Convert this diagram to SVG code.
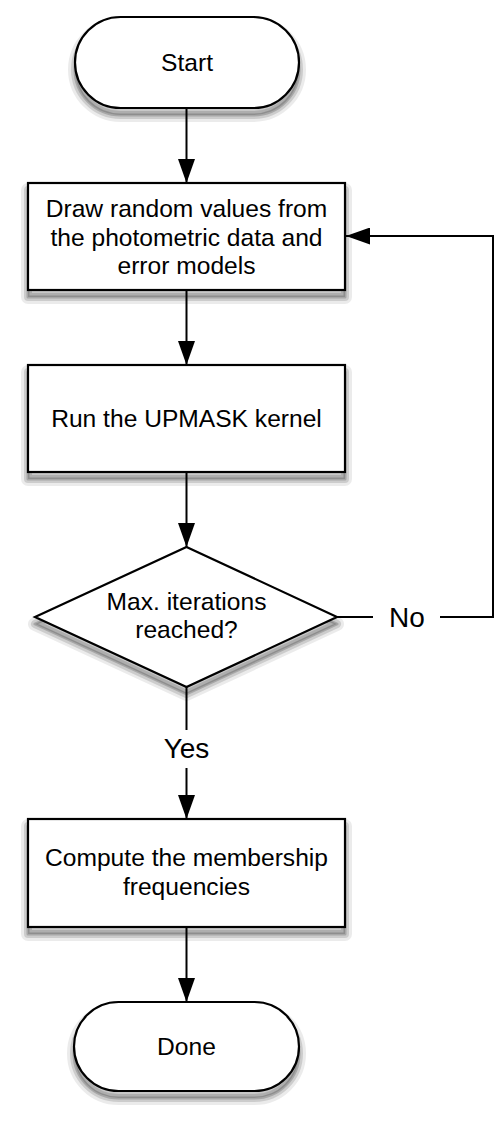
<svg xmlns="http://www.w3.org/2000/svg" xmlns:xlink="http://www.w3.org/1999/xlink" width="498" height="1126" viewBox="0 0 498 1126">
<style>
.shape{fill:#fff;stroke:#000;stroke-width:2.2}
.s1{fill:#000;fill-opacity:0.15;stroke:#000;stroke-opacity:0.08;stroke-width:14;stroke-linejoin:round}
.s2{fill:none;stroke:#000;stroke-opacity:0.13;stroke-width:8;stroke-linejoin:round}
.s3{fill:none;stroke:#000;stroke-opacity:0.18;stroke-width:3;stroke-linejoin:round}
.t{font-family:"Liberation Sans",Arial,Helvetica,sans-serif;font-size:24.6px;fill:#000;text-anchor:middle}
.lbl{font-family:"Liberation Sans",Arial,Helvetica,sans-serif;font-size:28px;fill:#000;text-anchor:middle}
.c{fill:none;stroke:#000;stroke-width:2}
</style>
<defs>
<rect id="g-start" x="75" y="17" width="224" height="91" rx="45.5" ry="45.5"/>
<rect id="g-draw" x="28" y="183" width="317" height="107"/>
<rect id="g-run" x="28" y="365" width="317" height="107"/>
<polygon id="g-dec" points="186.5,547 337,617 186.5,687 35,617"/>
<rect id="g-comp" x="28" y="819" width="317" height="108"/>
<rect id="g-done" x="74" y="1002" width="225" height="89" rx="44.5" ry="44.5"/>
<marker id="arr" markerUnits="userSpaceOnUse" markerWidth="24" markerHeight="17" refX="24" refY="8.5" orient="auto">
<path d="M0,0 L24,8.5 L0,17 z" fill="#000"/>
</marker>
</defs>
<rect width="498" height="1126" fill="#fff"/>
<g id="shadows" transform="translate(0,7)">
<use href="#g-start" xlink:href="#g-start" class="s1"/><use href="#g-start" xlink:href="#g-start" class="s2"/><use href="#g-start" xlink:href="#g-start" class="s3"/>
<use href="#g-draw" xlink:href="#g-draw" class="s1"/><use href="#g-draw" xlink:href="#g-draw" class="s2"/><use href="#g-draw" xlink:href="#g-draw" class="s3"/>
<use href="#g-run" xlink:href="#g-run" class="s1"/><use href="#g-run" xlink:href="#g-run" class="s2"/><use href="#g-run" xlink:href="#g-run" class="s3"/>
<use href="#g-dec" xlink:href="#g-dec" class="s1"/><use href="#g-dec" xlink:href="#g-dec" class="s2"/><use href="#g-dec" xlink:href="#g-dec" class="s3"/>
<use href="#g-comp" xlink:href="#g-comp" class="s1"/><use href="#g-comp" xlink:href="#g-comp" class="s2"/><use href="#g-comp" xlink:href="#g-comp" class="s3"/>
<use href="#g-done" xlink:href="#g-done" class="s1"/><use href="#g-done" xlink:href="#g-done" class="s2"/><use href="#g-done" xlink:href="#g-done" class="s3"/>
</g>
<g id="connectors">
<line class="c" x1="186.5" y1="108" x2="186.5" y2="183" marker-end="url(#arr)"/>
<line class="c" x1="186.5" y1="290" x2="186.5" y2="365" marker-end="url(#arr)"/>
<line class="c" x1="186.5" y1="472" x2="186.5" y2="547" marker-end="url(#arr)"/>
<line class="c" x1="186.5" y1="687" x2="186.5" y2="730"/>
<line class="c" x1="186.5" y1="768" x2="186.5" y2="819" marker-end="url(#arr)"/>
<text class="lbl" x="186.5" y="758">Yes</text>
<line class="c" x1="186.5" y1="927" x2="186.5" y2="1002" marker-end="url(#arr)"/>
<line class="c" x1="337" y1="617" x2="373" y2="617"/>
<text class="lbl" x="407" y="627">No</text>
<path class="c" d="M440,617 H493 V236 H346" marker-end="url(#arr)"/>
</g>
<g id="start">
<use href="#g-start" xlink:href="#g-start" class="shape"/>
<text class="t" x="187" y="71">Start</text>
</g>
<g id="draw">
<use href="#g-draw" xlink:href="#g-draw" class="shape"/>
<text class="t" x="186.5" y="217">Draw random values from</text>
<text class="t" x="186.5" y="245.5">the photometric data and</text>
<text class="t" x="186.5" y="274">error models</text>
</g>
<g id="run">
<use href="#g-run" xlink:href="#g-run" class="shape"/>
<text class="t" x="186.5" y="427">Run the UPMASK kernel</text>
</g>
<g id="decision">
<use href="#g-dec" xlink:href="#g-dec" class="shape"/>
<text class="t" x="186.5" y="610">Max. iterations</text>
<text class="t" x="186.5" y="638">reached?</text>
</g>
<g id="compute">
<use href="#g-comp" xlink:href="#g-comp" class="shape"/>
<text class="t" x="186.5" y="866">Compute the membership</text>
<text class="t" x="186.5" y="895">frequencies</text>
</g>
<g id="done">
<use href="#g-done" xlink:href="#g-done" class="shape"/>
<text class="t" x="186.5" y="1055">Done</text>
</g>
</svg>
